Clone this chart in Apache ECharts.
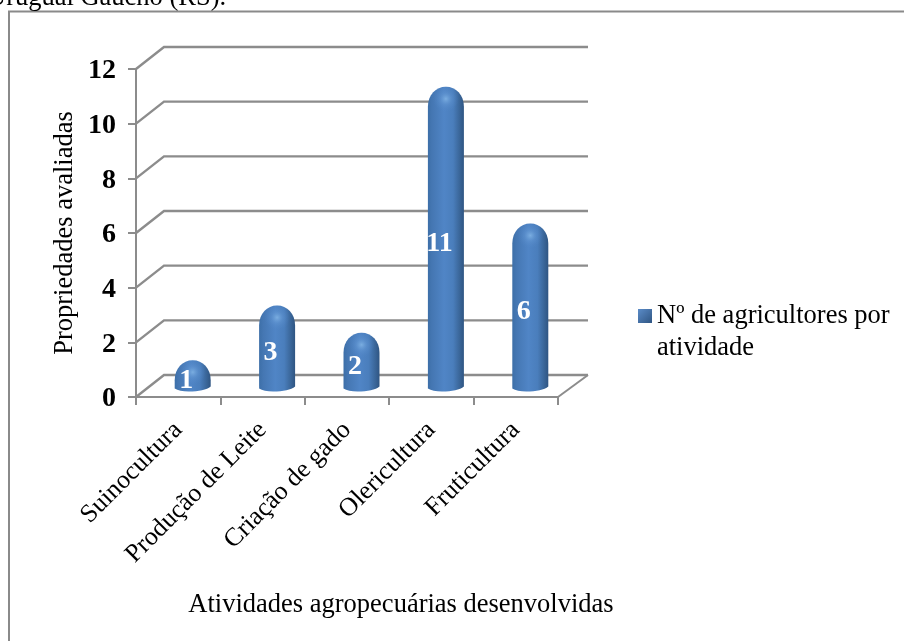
<!DOCTYPE html>
<html>
<head>
<meta charset="utf-8">
<style>html,body{margin:0;padding:0;background:#fff;overflow:hidden}#chart{width:904px;height:641px}</style>
<script src="https://cdn.jsdelivr.net/npm/echarts@6/dist/echarts.min.js"></script>
</head>
<body>
<div id="chart"></div>
<script>
const categories = ['Suinocultura', 'Produção de Leite', 'Criação de gado', 'Olericultura', 'Fruticultura'];
const farmers = [1, 3, 2, 11, 6];
const gridValues = [0, 2, 4, 6, 8, 10, 12];
const seriesName = 'Nº de agricultores por\natividade';

// Oblique projection of the chart's back wall
const DEPTH_X = 28;
const DEPTH_Y = 22;
const FONT = '"Liberation Serif", "Times New Roman", serif';
const TEXT_SIZE = 26.5;
const GRID_COLOR = '#8c8c8c';

const chart = echarts.init(document.getElementById('chart'));

// Wall lines: side diagonal plus the back horizontal at each tick value
function renderWall(params, api) {
  const y = api.coord([0, api.value(1)])[1];
  const sys = params.coordSys;
  const left = sys.x, right = sys.x + sys.width;
  const isFloor = api.value(1) === 0;
  const children = [{
    type: 'polyline',
    shape: { points: [[left, y], [left + DEPTH_X, y - DEPTH_Y], [right + DEPTH_X + 2, y - DEPTH_Y]] },
    style: { stroke: GRID_COLOR, lineWidth: 2.4, fill: null }
  }];
  if (isFloor) {
    children.push({
      type: 'line',
      shape: { x1: right, y1: y, x2: right + DEPTH_X + 2, y2: y - DEPTH_Y },
      style: { stroke: GRID_COLOR, lineWidth: 2 }
    });
  }
  return { type: 'group', children };
}

// Rounded column standing halfway into the floor depth
function renderColumn(params, api) {
  const idx = api.value(0), val = api.value(1);
  const dx = DEPTH_X / 2 + 0.5, dy = DEPTH_Y / 2 - 1.5;
  const half = 18;
  const p = api.coord([idx, val]);
  const p0 = api.coord([idx, 0]);
  const cx = p[0] + dx, top = p[1] - dy, base = p0[1] - dy;
  const l = cx - half, r = cx + half;
  const shoulder = top + 20;
  const path =
    'M' + l + ' ' + shoulder +
    'C' + l + ' ' + (top + 8) + ' ' + (cx - 10) + ' ' + top + ' ' + cx + ' ' + top +
    'C' + (cx + 10) + ' ' + top + ' ' + r + ' ' + (top + 8) + ' ' + r + ' ' + shoulder +
    'L' + r + ' ' + (base - 1) +
    'C' + (r - 4) + ' ' + (base + 2.5) + ' ' + (cx + 6) + ' ' + (base + 4) + ' ' + (cx - 4) + ' ' + (base + 4) +
    'C' + (cx - 10) + ' ' + (base + 4) + ' ' + (l + 3) + ' ' + (base + 3) + ' ' + l + ' ' + (base + 1) + 'Z';
  const mid = api.coord([idx, val / 2]);
  return {
    type: 'group',
    children: [
      {
        type: 'path',
        shape: { pathData: path },
        style: {
          fill: new echarts.graphic.LinearGradient(0, 0, 1, 0, [
            { offset: 0, color: '#3d6fa8' },
            { offset: 0.12, color: '#4577b3' },
            { offset: 0.45, color: '#5085c6' },
            { offset: 0.7, color: '#4a7ebc' },
            { offset: 0.88, color: '#3a6699' },
            { offset: 1, color: '#2f5582' }
          ])
        }
      },
      {
        type: 'circle',
        shape: { cx: cx, cy: top + 12, r: 13 },
        style: {
          fill: new echarts.graphic.RadialGradient(0.5, 0.5, 0.5, [
            { offset: 0, color: 'rgba(125,176,226,0.95)' },
            { offset: 0.45, color: 'rgba(100,152,212,0.45)' },
            { offset: 1, color: 'rgba(80,133,198,0)' }
          ])
        }
      },
      {
        type: 'text',
        style: {
          text: String(val),
          x: mid[0] + 8,
          y: mid[1] - 3,
          fill: '#ffffff',
          align: 'center',
          verticalAlign: 'middle',
          font: 'bold 28px ' + FONT
        }
      }
    ]
  };
}

chart.setOption({
  animation: false,
  backgroundColor: '#ffffff',
  grid: { left: 136, top: 69, width: 422, height: 328 },
  legend: {
    data: [{
      name: seriesName,
      icon: 'rect',
      itemStyle: {
        color: new echarts.graphic.LinearGradient(0, 0, 1, 1, [
          { offset: 0, color: '#5b8cc8' },
          { offset: 1, color: '#2f5582' }
        ])
      }
    }],
    left: 638,
    top: 268,
    itemWidth: 14,
    itemHeight: 14,
    itemGap: 0,
    padding: 0,
    selectedMode: false,
    // A leading blank line keeps the marker level with the first text line
    formatter: name => '\n' + name,
    textStyle: {
      fontFamily: FONT,
      fontSize: TEXT_SIZE,
      color: '#000',
      lineHeight: 32
    }
  },
  xAxis: {
    type: 'category',
    data: categories,
    name: 'Atividades agropecuárias desenvolvidas',
    nameLocation: 'middle',
    nameGap: 195,
    nameTextStyle: { fontFamily: FONT, fontSize: TEXT_SIZE, color: '#000', padding: [0, 0, 0, 108] },
    axisLine: { lineStyle: { color: GRID_COLOR, width: 2 } },
    axisTick: { show: true, length: 8, lineStyle: { color: GRID_COLOR, width: 2 } },
    axisLabel: { rotate: 45, interval: 0, margin: 29, fontFamily: FONT, fontSize: 25.8, color: '#000' },
    splitLine: { show: false }
  },
  yAxis: {
    type: 'value',
    min: 0,
    max: 12,
    interval: 2,
    name: 'Propriedades avaliadas',
    nameLocation: 'middle',
    nameGap: 57,
    nameRotate: 90,
    nameTextStyle: { fontFamily: FONT, fontSize: TEXT_SIZE, color: '#000' },
    axisLine: { show: true, lineStyle: { color: GRID_COLOR, width: 2 } },
    axisTick: { show: true, length: 8, lineStyle: { color: GRID_COLOR, width: 2 } },
    axisLabel: { margin: 20, verticalAlign: 'top', lineHeight: 4, fontFamily: FONT, fontSize: 28, fontWeight: 'bold', color: '#000' },
    splitLine: { show: false }
  },
  series: [
    {
      type: 'custom',
      name: 'wall',
      silent: true,
      z: 1,
      renderItem: renderWall,
      data: gridValues.map(v => [0, v])
    },
    {
      type: 'custom',
      name: seriesName,
      z: 3,
      renderItem: renderColumn,
      data: farmers.map((v, i) => [i, v])
    }
  ],
  graphic: [
    {
      type: 'polyline',
      silent: true,
      shape: { points: [[9, 645], [9, 11.5], [910, 11.5]] },
      style: { stroke: '#8a8a8a', lineWidth: 2, fill: null }
    },
    {
      type: 'text',
      silent: true,
      x: -13,
      y: -15,
      style: { text: 'Uruguai Gaúcho (RS).', font: TEXT_SIZE + 'px ' + FONT, fill: '#000' }
    }
  ]
});
</script>
</body>
</html>
